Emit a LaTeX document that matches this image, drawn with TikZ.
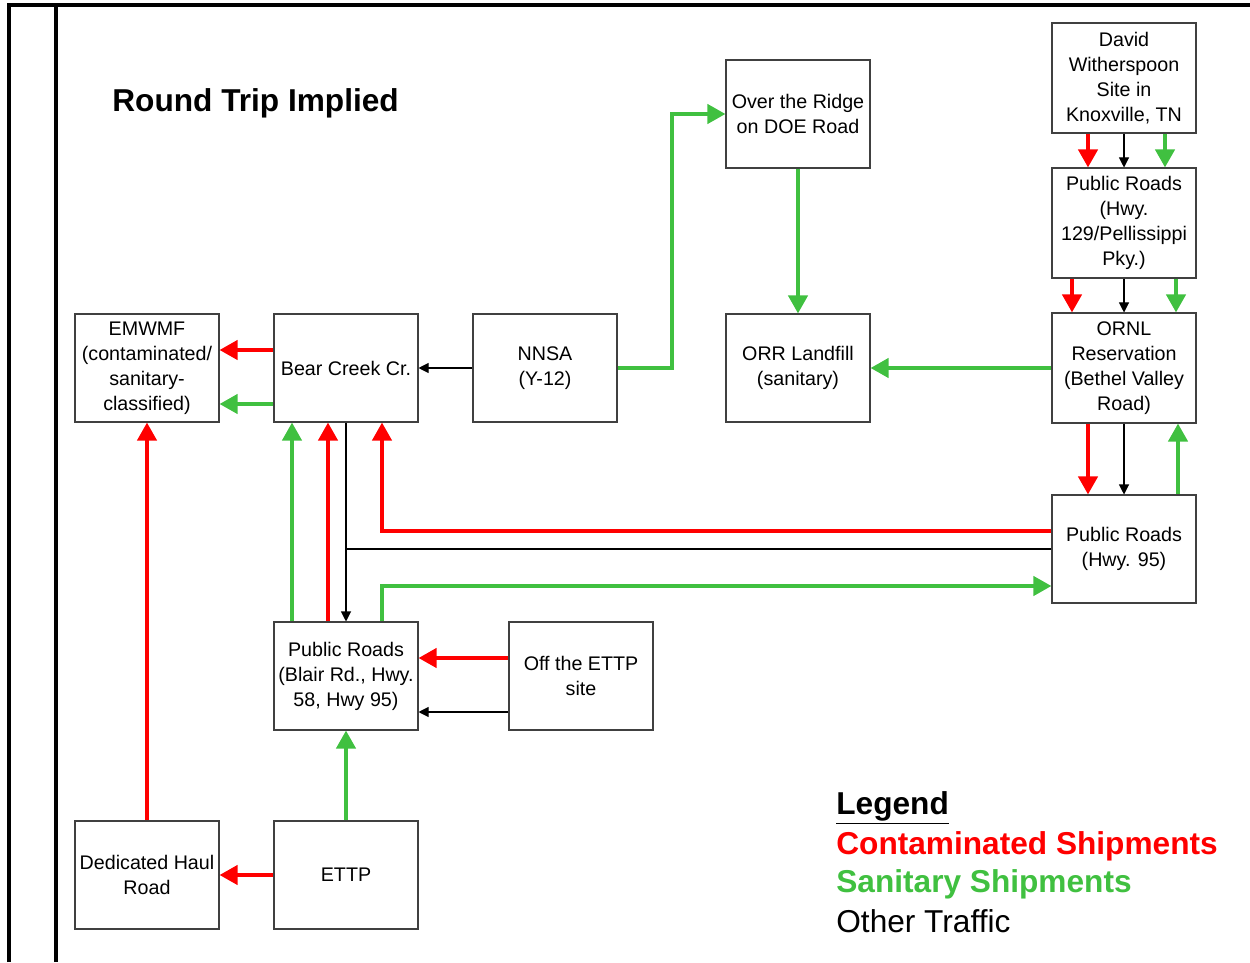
\documentclass[tikz,border=0pt]{standalone}
\usepackage{fontspec}
\setmainfont{Liberation Sans}
\usetikzlibrary{arrows.meta}
\definecolor{contred}{RGB}{255,0,0}
\definecolor{sangreen}{RGB}{64,192,64}
\begin{document}
\begin{tikzpicture}[
  box/.style={draw=black!75, line width=0.6pt, minimum width=2.88cm, minimum height=2.16cm,
    align=center, inner sep=1pt, font=\fontsize{11.2}{14.2}\selectfont},
  cont/.style={draw=contred, line width=2.3pt, -{Triangle[width=0.38cm,length=0.36cm]}},
  san/.style={draw=sangreen, line width=2.3pt, -{Triangle[width=0.38cm,length=0.36cm]}},
  other/.style={draw=black, line width=0.6pt, -{Triangle[width=0.2cm,length=0.2cm]}},
  legtext/.style={anchor=west, inner sep=0pt, font=\fontsize{18}{21}\selectfont}
]
\useasboundingbox (0,0) rectangle (25,19.24);
% frame
\draw[line width=2pt] (0.18,0) -- (0.18,19.14) -- (25,19.14);
\draw[line width=2pt] (1.12,0) -- (1.12,19.14);
\node[legtext, font=\fontsize{18}{21}\selectfont\bfseries] (title) at (2.24,17.18) {Round Trip Implied};

% boxes
\node[box] (emwmf) at (2.94,11.88) {EMWMF\\(contaminated/\\sanitary-\\classified)};
\node[box] (bear) at (6.92,11.88) {Bear Creek Cr.};
\node[box] (nnsa) at (10.90,11.88) {NNSA\\(Y-12)};
\node[box] (ridge) at (15.96,16.96) {Over the Ridge\\on DOE Road};
\node[box] (orr) at (15.96,11.88) {ORR Landfill\\(sanitary)};
\node[box, minimum height=2.2cm] (david) at (22.48,17.68) {David\\Witherspoon\\Site in\\Knoxville, TN};
\node[box, minimum height=2.2cm] (pky) at (22.48,14.78) {Public Roads\\(Hwy.\\129/Pellissippi\\Pky.)};
\node[box, minimum height=2.2cm] (ornl) at (22.48,11.88) {ORNL\\Reservation\\(Bethel Valley\\Road)};
\node[box] (hwy95) at (22.48,8.26) {Public Roads\\(Hwy. 95)};
\node[box] (blair) at (6.92,5.72) {Public Roads\\(Blair Rd., Hwy.\\58, Hwy 95)};
\node[box] (offsite) at (11.62,5.72) {Off the ETTP\\site};
\node[box] (haul) at (2.94,1.74) {Dedicated Haul\\Road};
\node[box] (ettp) at (6.92,1.74) {ETTP};

% Knoxville to ORNL
\draw[cont] ([xshift=-0.72cm]david.south) -- ([xshift=-0.72cm]pky.north);
\draw[other] (david.south) -- (pky.north);
\draw[san] ([xshift=0.82cm]david.south) -- ([xshift=0.82cm]pky.north);
\draw[cont] ([xshift=-1.04cm]pky.south) -- ([xshift=-1.04cm]ornl.north);
\draw[other] (pky.south) -- (ornl.north);
\draw[san] ([xshift=1.04cm]pky.south) -- ([xshift=1.04cm]ornl.north);
\draw[cont] ([xshift=-0.72cm]ornl.south) -- ([xshift=-0.72cm]hwy95.north);
\draw[other] (ornl.south) -- (hwy95.north);
\draw[san] ([xshift=1.08cm]hwy95.north) -- ([xshift=1.08cm]ornl.south);
\draw[san] (ornl.west) -- (orr.east);

% Y-12
\draw[other] (nnsa.west) -- (bear.east);
\draw[san] (nnsa.east) -- ++(1.08,0) |- (ridge.west);
\draw[san] (ridge.south) -- (orr.north);

% Hwy 95 and Bear Creek
\draw[cont] ([yshift=0.36cm]hwy95.west) -| ([xshift=0.72cm]bear.south);
\draw[other] (bear.south) -- (blair.north);
\draw[other, -] (hwy95.west) -- (hwy95.west -| bear.south);
\draw[san] ([xshift=0.72cm]blair.north) |- ([yshift=-0.74cm]hwy95.west);
\draw[san] ([xshift=-1.08cm]blair.north) -- ([xshift=-1.08cm]bear.south);
\draw[cont] ([xshift=-0.36cm]blair.north) -- ([xshift=-0.36cm]bear.south);
\draw[cont] ([yshift=0.36cm]bear.west) -- ([yshift=0.36cm]emwmf.east);
\draw[san] ([yshift=-0.72cm]bear.west) -- ([yshift=-0.72cm]emwmf.east);

% ETTP
\draw[cont] ([yshift=0.36cm]offsite.west) -- ([yshift=0.36cm]blair.east);
\draw[other] ([yshift=-0.72cm]offsite.west) -- ([yshift=-0.72cm]blair.east);
\draw[san] (ettp.north) -- (blair.south);
\draw[cont] (ettp.west) -- (haul.east);
\draw[cont] (haul.north) -- (emwmf.south);

% legend
\node[legtext, font=\fontsize{18}{21}\selectfont\bfseries] (leghead) at (16.72,3.08) {\underline{Legend}};
\node[legtext, font=\fontsize{18}{21}\selectfont\bfseries, text=contred] (legcont) at (16.72,2.32) {Contaminated Shipments};
\node[legtext, font=\fontsize{18}{21}\selectfont\bfseries, text=sangreen] (legsan) at (16.72,1.56) {Sanitary Shipments};
\node[legtext] (legother) at (16.72,0.82) {Other Traffic};
\end{tikzpicture}
\end{document}
